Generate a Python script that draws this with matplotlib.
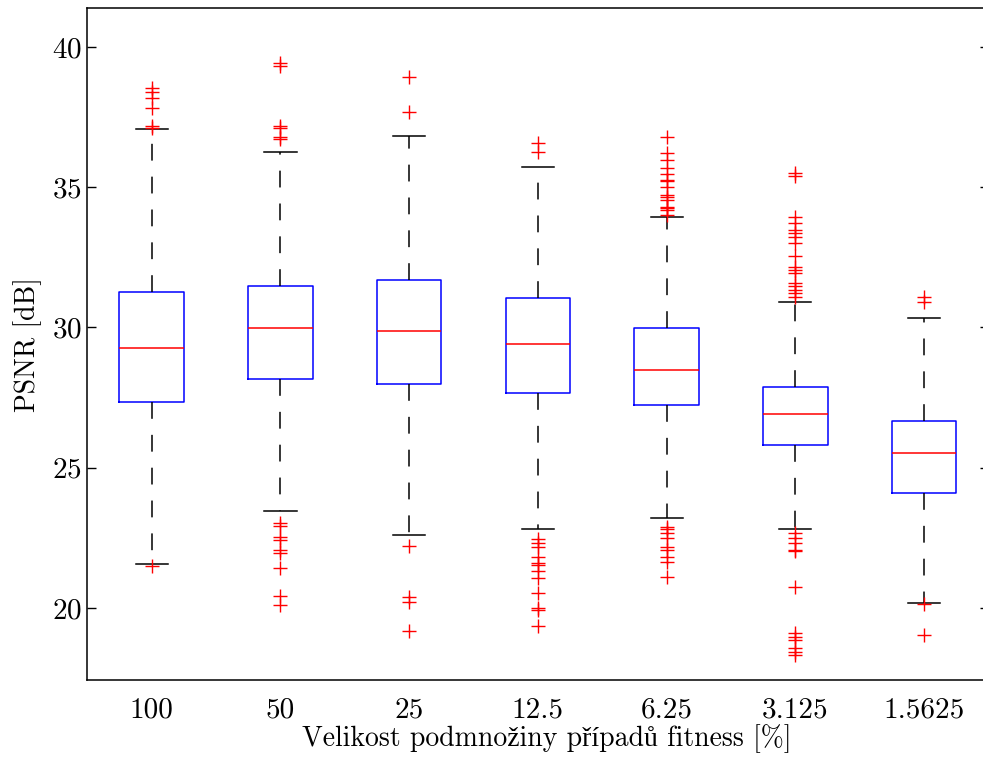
import numpy as np
import matplotlib
matplotlib.use("Agg")
import matplotlib.pyplot as plt

plt.rcParams["font.family"] = ["cmr10", "Liberation Serif"]
plt.rcParams["mathtext.fontset"] = "cm"
plt.rcParams["axes.formatter.use_mathtext"] = True

# values
labels = ["100", "50", "25", "12.5", "6.25", "3.125", "1.5625"]
q1 = [27.34, 28.16, 27.99, 27.66, 27.24, 25.81, 24.10]
med = [29.27, 29.98, 29.88, 29.41, 28.48, 26.92, 25.53]
q3 = [31.27, 31.48, 31.69, 31.05, 29.98, 27.88, 26.67]
whislo = [21.57, 23.47, 22.60, 22.81, 23.20, 22.82, 20.19]
whishi = [37.08, 36.26, 36.84, 35.73, 33.95, 30.90, 30.33]
fliers = [
    [38.53, 38.41, 38.17, 37.81, 37.18, 37.13, 21.50],
    [39.42, 39.33, 37.18, 37.10, 36.80, 36.72,
     23.02, 22.93, 22.52, 22.42, 22.07, 21.97, 21.42, 20.41, 20.11],
    [38.93, 37.67, 22.22, 20.40, 20.20, 19.16],
    [36.57, 36.24, 22.45, 22.31, 22.19, 21.83, 21.62, 21.53, 21.30, 21.06,
     20.55, 19.99, 19.91, 19.36],
    [36.78, 36.21, 35.97, 35.70, 35.47, 35.26, 35.22, 35.00, 34.72, 34.66,
     34.55, 34.31, 34.25, 34.19, 34.01,
     22.90, 22.81, 22.67, 22.48, 22.19, 22.07, 21.83, 21.65, 21.12],
    [35.52, 35.40, 33.95, 33.74, 33.48, 33.36, 33.22, 33.02, 32.55, 32.17,
     32.05, 31.93, 31.60, 31.48, 31.34, 31.22, 31.10,
     22.67, 22.48, 22.31, 22.07, 22.03, 20.76,
     19.10, 18.98, 18.86, 18.56, 18.44, 18.32],
    [31.10, 30.90, 20.13, 19.04],
]

stats = [dict(label=labels[i], q1=q1[i], med=med[i], q3=q3[i],
              whislo=whislo[i], whishi=whishi[i], fliers=fliers[i])
         for i in range(len(labels))]

fig = plt.figure(figsize=(9.83, 7.57), dpi=100)
# right spine sits just past the image edge, as in the original export
ax = fig.add_axes([0.0888, 0.1017, 0.9168, 0.8873])

ax.bxp(stats, positions=range(1, 8), widths=0.5, showfliers=True,
       boxprops=dict(color="blue", lw=1.1),
       medianprops=dict(color="red", lw=1.1),
       whiskerprops=dict(color="black", lw=1.1, linestyle=(0, (11, 10.5))),
       capprops=dict(color="black", lw=1.1),
       flierprops=dict(marker="+", markeredgecolor="red", markersize=10,
                       markeredgewidth=1.0, linestyle="none"))

ax.set_xlim(0.5, 7.5)
ax.set_ylim(17.43, 41.38)
ax.set_yticks([20, 25, 30, 35, 40])
ax.tick_params(axis="y", direction="in", length=6.5, width=1.0,
               left=True, right=True, labelsize=21, pad=4)
ax.tick_params(axis="x", length=0, labelsize=21, pad=12)
for s in ax.spines.values():
    s.set_linewidth(1.1)

ax.set_xlabel("Velikost podmnožiny případů fitness [%]", fontsize=20)
ax.set_ylabel("PSNR [dB]", fontsize=20)
ax.xaxis.set_label_coords(0.51, -0.066)
ax.yaxis.set_label_coords(-0.05, 0.5)

fig.savefig("out.png", dpi=100)
